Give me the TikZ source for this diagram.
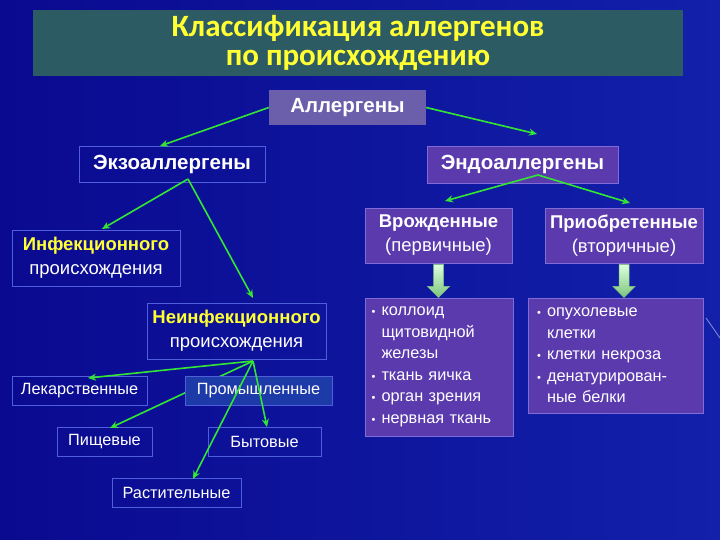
\documentclass[tikz,border=0pt]{standalone}
\usepackage{fontspec}
\setmainfont{Liberation Sans}
\newfontfamily\titlefont{Carlito}
\usetikzlibrary{calc,arrows.meta}
\definecolor{bgA}{HTML}{0A0A90}
\definecolor{bgB}{HTML}{1220AA}
\definecolor{titlefill}{HTML}{2D5B64}
\definecolor{allfill}{HTML}{6B5EAA}
\definecolor{purp}{HTML}{5B3AAE}
\definecolor{purpedge}{HTML}{7E6CD8}
\definecolor{oedge}{HTML}{4F5FDC}
\definecolor{promfill}{HTML}{1C3AA8}
\definecolor{grn}{HTML}{33E633}
\definecolor{ylw}{HTML}{FFFF33}
\definecolor{bagL}{HTML}{DDFFDD}
\definecolor{bagD}{HTML}{7CC47C}
\newcommand{\itm}[1]{\makebox[10pt][l]{\fontsize{11}{11}\selectfont•}#1}
\newcommand{\cnt}[1]{\hspace*{10pt}#1}
\begin{document}
\begin{tikzpicture}[x=1pt,y=-1pt,
  box/.style={rectangle, inner sep=0pt, align=center, text=white},
  obox/.style={box, draw=oedge, line width=0.9pt},
  pbox/.style={box, fill=purp, draw=purpedge, line width=0.9pt},
  conn/.style={grn, line width=1.6pt, -{Stealth[length=8pt,width=7pt]}},
  lbl/.style={font=\fontsize{18.5}{24}\selectfont},
  blbl/.style={font=\bfseries\fontsize{20.5}{24}\selectfont},
  sml/.style={font=\fontsize{16.3}{20}\selectfont},
  lst/.style={pbox, align=left, font=\fontsize{16.3}{21.5}\selectfont},
  blockarrow/.style={top color=bagL, bottom color=bagD, draw=bagD, line width=0.5pt},
]
\useasboundingbox (0,0) rectangle (720,540);
\shade[left color=bgA, right color=bgB] (0,0) rectangle (720,540);
\draw[color={rgb,255:red,140;green,140;blue,216}, line width=0.8pt] (706,318) -- (720,338);

% title
\node[box, fill=titlefill, minimum width=650, minimum height=66, text=ylw,
  font=\titlefont\bfseries\fontsize{31}{29}\selectfont] (title) at (358,43)
  {Классификация аллергенов\\по происхождению};

% level 1
\node[box, fill=allfill, minimum width=157, minimum height=35, blbl] (all) at (347.5,107.5) {Аллергены};
\node[obox, minimum width=186, minimum height=36, blbl] (exo) at (172,164) {Экзоаллергены};
\node[pbox, minimum width=191, minimum height=37, blbl] (endo) at (522.5,164.5) {Эндоаллергены};

% exo children
\node[obox, minimum width=168, minimum height=56, lbl] (inf) at (96,258)
  {{\bfseries\color{ylw}Инфекционного}\\происхождения};
\node[obox, minimum width=179, minimum height=56, lbl] (noninf) at (236.5,331)
  {{\bfseries\color{ylw}Неинфекционного}\\происхождения};

% endo children
\node[pbox, minimum width=147, minimum height=55, lbl] (vrozh) at (438.5,235.5)
  {{\bfseries Врожденные}\\(первичные)};
\node[pbox, minimum width=158, minimum height=55, lbl] (priob) at (624,235.5)
  {{\bfseries Приобретенные}\\(вторичные)};

\node[lst, text width=135, inner xsep=6.5pt, minimum height=138] (list1) at (439,367)
  {\itm{коллоид}\\\cnt{щитовидной}\\\cnt{железы}\\\itm{ткань яичка}\\\itm{орган зрения}\\\itm{нервная ткань}};
\node[lst, text width=157, inner xsep=9pt, minimum height=115] (list2) at (615.5,355.5)
  {\itm{опухолевые}\\\cnt{клетки}\\\itm{клетки некроза}\\\itm{денатурирован-}\\\cnt{ные белки}};

% block arrows
\foreach \s in {vrozh, priob}{
  \begin{scope}[shift={(\s.south)}]
    \shade[blockarrow] (-5,1) -- (5,1) -- (5,23) -- (11,23) -- (0,34) -- (-11,23) -- (-5,23) -- cycle;
  \end{scope}
}

% coordinates for connector ends
\coordinate (exoIn) at (160,146);
\coordinate (endoIn) at (537,134);
\coordinate (exoOut) at (188,179);
\coordinate (infIn) at (102,229);
\coordinate (noninfIn) at (253,298);
\coordinate (endoOut) at (538,175);
\coordinate (vrozhIn) at (445,201);
\coordinate (priobIn) at (630,203);
\coordinate (nonOut) at (253,361);
\coordinate (lekIn) at (88,378);
\coordinate (pishIn) at (110,428);
\coordinate (bytIn) at (267,427);
\coordinate (rastIn) at (193,479);

% bottom nodes
\node[obox, minimum width=135, minimum height=29, sml] (lek) at (79.5,390.5) {Лекарственные};
\node[obox, minimum width=95, minimum height=29, sml] (pish) at (104.5,441.5) {Пищевые};
\node[obox, minimum width=113, minimum height=29, sml] (byt) at (264.5,441.5) {Бытовые};
\node[obox, minimum width=129, minimum height=29, sml] (rast) at (176.5,492.5) {Растительные};

% connectors
\draw[conn] (all.west) -- (exoIn);
\draw[conn] (all.east) -- (endoIn);
\draw[conn] (exoOut) -- (infIn);
\draw[conn] (exoOut) -- (noninfIn);
\draw[conn] (endoOut) -- (vrozhIn);
\draw[conn] (endoOut) -- (priobIn);
\draw[conn] (nonOut) -- (pishIn);
\node[obox, fill=promfill, minimum width=147, minimum height=29, sml] (prom) at (258.5,390.5) {Промышленные};
\draw[conn] (nonOut) -- (lekIn);
\draw[conn] (nonOut) -- (bytIn);
\draw[conn] (nonOut) -- (rastIn);
\end{tikzpicture}
\end{document}
